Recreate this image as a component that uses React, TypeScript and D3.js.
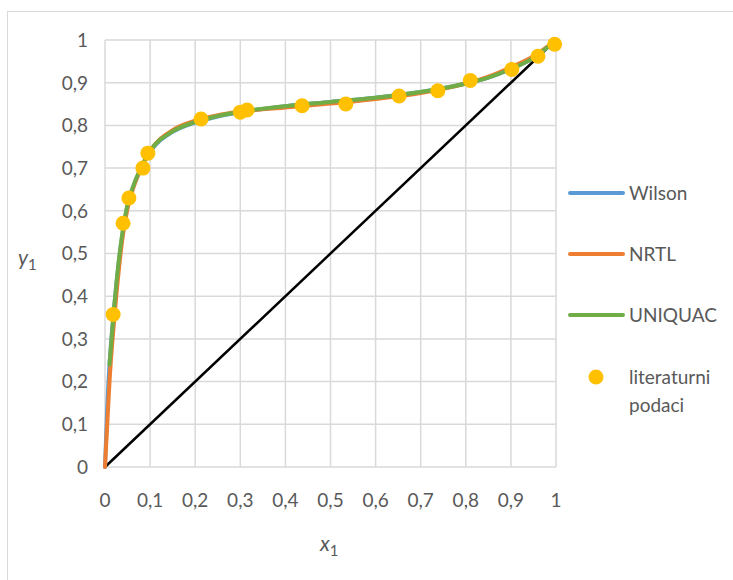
import React from 'react';
import * as d3 from 'd3';

// literature data (x1, y1)
const litX = [0.018, 0.04, 0.053, 0.084, 0.095, 0.213, 0.3, 0.315, 0.437, 0.534, 0.652, 0.738, 0.81, 0.902, 0.96, 0.997];
const litY = [0.357, 0.571, 0.63, 0.7, 0.735, 0.815, 0.831, 0.836, 0.846, 0.85, 0.869, 0.881, 0.905, 0.931, 0.962, 0.99];

// model curves
const modelX = [0, 0.005, 0.01, 0.02, 0.03, 0.04, 0.05, 0.06, 0.08, 0.1, 0.15, 0.2, 0.25, 0.3, 0.4, 0.5, 0.6, 0.7, 0.8, 0.85, 0.9, 0.95, 1];
const wilsonY = [0, 0.14, 0.24, 0.37, 0.475, 0.555, 0.612, 0.648, 0.7, 0.738, 0.785, 0.807, 0.821, 0.831, 0.845, 0.855, 0.865, 0.878, 0.898, 0.912, 0.932, 0.958, 1];
const nrtlY = [0, 0.1, 0.2, 0.34, 0.455, 0.545, 0.605, 0.645, 0.7, 0.74, 0.789, 0.811, 0.824, 0.832, 0.842, 0.851, 0.862, 0.876, 0.898, 0.914, 0.936, 0.962, 1];
const uniquacY = [null, null, 0.24, 0.37, 0.478, 0.558, 0.615, 0.65, 0.702, 0.74, 0.786, 0.808, 0.822, 0.832, 0.845, 0.855, 0.865, 0.878, 0.898, 0.912, 0.932, 0.958, 1];

const ticks = [0, 0.1, 0.2, 0.3, 0.4, 0.5, 0.6, 0.7, 0.8, 0.9, 1];
const legendItems = ['Wilson', 'NRTL', 'UNIQUAC'];
const colors = ['#5B9BD5', '#ED7D31', '#70AD47'];

const W = 733;
const H = 580;
const font = 'Lato, "Open Sans", sans-serif';
const textColor = '#595959';

const fmt = (v: number) => (v === 0 || v === 1 ? String(v) : String(v).replace('.', ','));

export default function App() {
  const x = d3.scaleLinear().domain([0, 1]).range([105, 556]);
  const y = d3.scaleLinear().domain([0, 1]).range([467, 40]);

  const line = d3
    .line<[number, number | null]>()
    .defined((d) => d[1] !== null)
    .x((d) => x(d[0]))
    .y((d) => y(d[1] as number))
    .curve(d3.curveMonotoneX);

  const series = [wilsonY, nrtlY, uniquacY].map((ys) => modelX.map((v, i) => [v, ys[i]] as [number, number | null]));

  return (
    <svg width={W} height={H} style={{ position: 'absolute', left: 0, top: 0, fontFamily: font }}>
      <rect x={0} y={0} width={W} height={H} fill="#fff" />
      <rect x={7.5} y={11.5} width={W + 10} height={H + 10} fill="none" stroke="#d9d9d9" strokeWidth={1} />

      {ticks.map((t) => (
        <line key={'gx' + t} x1={x(t)} x2={x(t)} y1={y(0)} y2={y(1)} stroke="#d9d9d9" strokeWidth={1.5} />
      ))}
      {ticks.map((t) => (
        <line key={'gy' + t} x1={x(0)} x2={x(1)} y1={y(t)} y2={y(t)} stroke="#d9d9d9" strokeWidth={1.5} />
      ))}

      {ticks.map((t) => (
        <text key={'ty' + t} x={88} y={y(t)} dy="0.36em" textAnchor="end" fontSize={19} fill={textColor}>
          {fmt(t)}
        </text>
      ))}
      {ticks.map((t) => (
        <text key={'tx' + t} x={x(t)} y={507} textAnchor="middle" fontSize={19} fill={textColor}>
          {fmt(t)}
        </text>
      ))}

      <text x={18} y={265} fontSize={21} fill={textColor}>
        <tspan fontStyle="italic">y</tspan>
        <tspan fontSize={15} dy={5}>1</tspan>
      </text>
      <text x={320} y={551} fontSize={21} fill={textColor}>
        <tspan fontStyle="italic">x</tspan>
        <tspan fontSize={15} dy={5}>1</tspan>
      </text>

      <line x1={x(0)} y1={y(0)} x2={x(1)} y2={y(1)} stroke="#000" strokeWidth={2.5} />

      {series.map((s, i) => (
        <path key={i} d={line(s) || ''} fill="none" stroke={colors[i]} strokeWidth={4} strokeLinecap="round" />
      ))}

      {litX.map((v, i) => (
        <circle key={i} cx={x(v)} cy={y(litY[i])} r={7.5} fill="#FFC000" />
      ))}

      {legendItems.map((name, i) => (
        <g key={name} transform={`translate(0, ${193 + i * 61})`}>
          <line x1={570} x2={623} y1={0} y2={0} stroke={colors[i]} strokeWidth={4} strokeLinecap="round" />
          <text x={629} y={0} dy="0.36em" fontSize={19} fill={textColor}>
            {name}
          </text>
        </g>
      ))}
      <circle cx={596} cy={377} r={7.5} fill="#FFC000" />
      <text x={629} y={384} fontSize={19} fill={textColor}>literaturni</text>
      <text x={629} y={412} fontSize={19} fill={textColor}>podaci</text>
    </svg>
  );
}
